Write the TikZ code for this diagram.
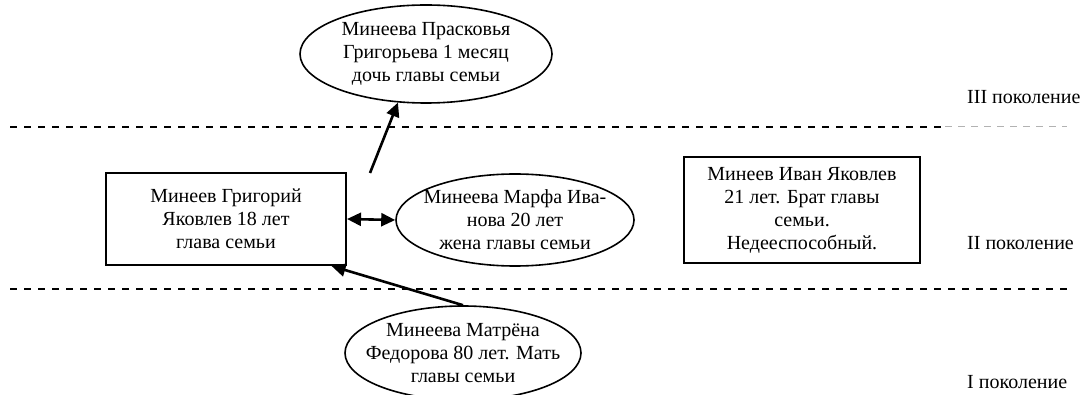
\documentclass[tikz,border=0pt]{standalone}
\usepackage{fontspec}
\setmainfont{Liberation Serif}
\usetikzlibrary{arrows.meta,shapes.geometric}
\begin{document}
\begin{tikzpicture}[x=1pt,y=-1pt,
  every node/.style={font=\fontsize{20}{23}\selectfont, align=center, inner sep=0pt},
  person/.style={draw, line width=2pt, rectangle},
  oval/.style={draw, line width=1.6pt, ellipse, inner xsep=-60pt, inner ysep=-30pt},
  link/.style={line width=2.6pt, -{Triangle[length=14pt,width=13pt]}},
  twoway/.style={line width=2.6pt, {Triangle[length=14pt,width=13pt]}-{Triangle[length=14pt,width=13pt]}},
  gen/.style={anchor=west},
  border/.style={line width=2pt, dash pattern=on 7pt off 7pt},
  borderfaint/.style={line width=1pt, gray!60, dash pattern=on 7pt off 6pt}]
\useasboundingbox (0,0) rectangle (1083,395);

% generation boundaries
\coordinate (b3a) at (10,127);
\coordinate (b3b) at (945,127);
\coordinate (b3c) at (1067,127);
\coordinate (b2a) at (10,289);
\coordinate (b2b) at (1067,289);
\draw[border] (b3a) -- (b3b);
\draw[borderfaint] (b3b) -- (b3c);
\draw[border] (b2a) -- (b2b);

% family members
\node[oval, minimum width=252pt, minimum height=98pt] (daughter) at (426,54)
  {Минеева Прасковья\\Григорьева 1 месяц\\дочь главы семьи};
\node[person, minimum width=240pt, minimum height=92pt] (head) at (226,219)
  {Минеев Григорий\\Яковлев 18 лет\\глава семьи};
\node[oval, minimum width=238pt, minimum height=92pt] (wife) at (515,220)
  {Минеева Марфа Ива-\\нова 20 лет\\жена главы семьи};
\node[person, minimum width=236pt, minimum height=106pt] (brother) at (802,210)
  {Минеев Иван Яковлев\\21 лет. Брат главы\\семьи.\\Недееспособный.};
\node[oval, minimum width=236pt, minimum height=94pt] (mother) at (463,353)
  {Минеева Матрёна\\Федорова 80 лет. Мать\\главы семьи};

% generation labels
\node[gen] (g3) at (967,97) {III поколение};
\node[gen] (g2) at (967,243) {II поколение};
\node[gen] (g1) at (967,382) {I поколение};

% relations
\coordinate (upTail) at (370,173);
\draw[link] (upTail) -- (daughter.240);
\draw[twoway] (head.east) -- (wife.west);
\draw[link] (mother.north) -- (head.-24);
\end{tikzpicture}
\end{document}
